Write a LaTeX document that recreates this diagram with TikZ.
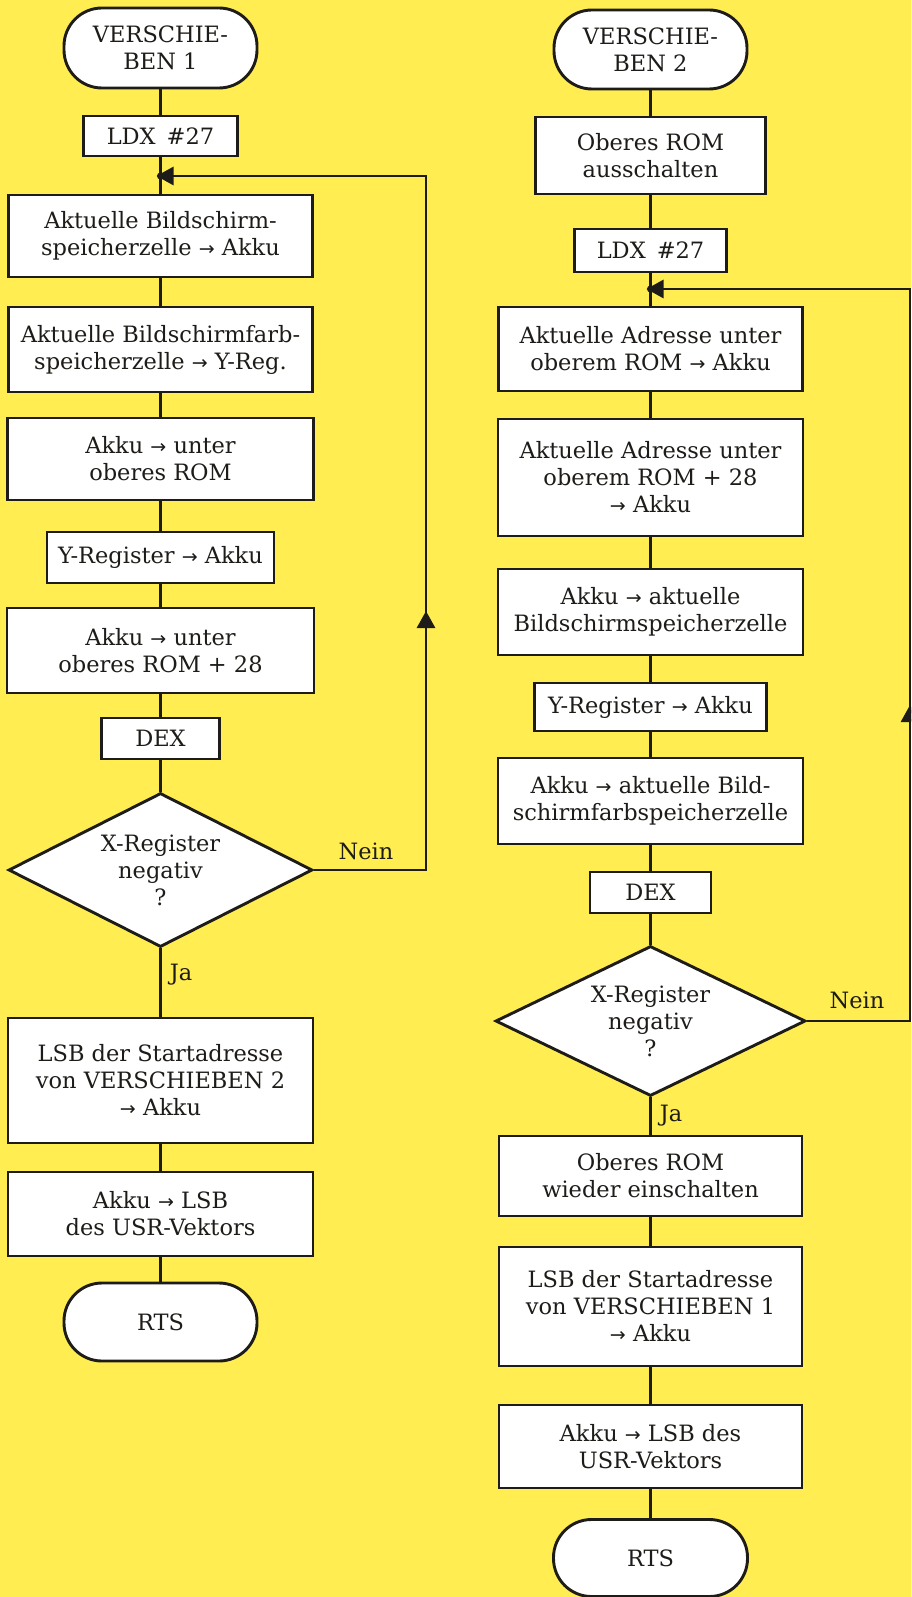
\documentclass[tikz,border=0pt]{standalone}
\usepackage{fontspec}
\setmainfont{DejaVu Serif}
\newfontfamily\symf{DejaVu Sans}
\usetikzlibrary{shapes.geometric,arrows.meta}
\definecolor{bgyellow}{RGB}{255,237,82}
\definecolor{ink}{RGB}{30,28,24}
\newcommand\ar{{\symf\fontsize{19}{19}\selectfont →}}
\begin{document}
\begin{tikzpicture}[x=1pt,y=-1pt,
  every node/.style={font=\fontsize{22.5}{27}\selectfont, text=ink},
  procbox/.style={draw=ink, line width=2.9pt, fill=white, rectangle, align=center, inner sep=0pt},
  termbox/.style={draw=ink, line width=2.9pt, fill=white, rectangle, rounded corners=38pt, align=center, inner sep=0pt},
  decbox/.style={draw=ink, line width=2.9pt, fill=white, diamond, aspect=2.2, align=center, inner sep=0pt},
  connline/.style={draw=ink, line width=2.9pt},
  lbl/.style={inner sep=0pt},
  arrowend/.style={-{Triangle[length=17pt,width=18pt]}}
]
\useasboundingbox (0,0) rectangle (911,1597);
\clip (0,0) rectangle (911,1597);
\fill[bgyellow] (0,0) rectangle (911,1597);

% ---------- left column ----------
\node[termbox, minimum width=193pt, minimum height=80pt] (s1) at (160.5,48) {VERSCHIE-\\BEN 1};
\node[procbox, minimum width=154pt, minimum height=40pt] (l1) at (160.5,136) {LDX\hspace{11pt}\#27};
\coordinate (J1) at (160.5,176);
\node[procbox, minimum width=304pt, minimum height=82pt] (b1) at (160.5,236) {Aktuelle Bildschirm-\\speicherzelle \ar{} Akku};
\node[procbox, minimum width=304pt, minimum height=85pt] (b2) at (160.5,349.5) {Aktuelle Bildschirmfarb-\\speicherzelle \ar{} Y-Reg.};
\node[procbox, minimum width=306pt, minimum height=82pt] (b3) at (160.5,459) {Akku \ar{} unter\\oberes ROM};
\node[procbox, minimum width=227pt, minimum height=51pt] (b4) at (160.5,557.5) {Y-Register \ar{} Akku};
\node[procbox, minimum width=307pt, minimum height=85pt] (b5) at (160.5,650.5) {Akku \ar{} unter\\oberes ROM + 28};
\node[procbox, minimum width=118pt, minimum height=41pt] (b6) at (160.5,738.5) {DEX};
\node[decbox, minimum width=304pt, minimum height=154pt] (d1) at (160.5,870) {X-Register\\negativ\\?};
\node[procbox, minimum width=305pt, minimum height=125pt] (b7) at (160.5,1080.5) {LSB der Startadresse\\von VERSCHIEBEN 2\\\ar{} Akku};
\node[procbox, minimum width=305pt, minimum height=84pt] (b8) at (160.5,1214) {Akku \ar{} LSB\\des USR-Vektors};
\node[termbox, minimum width=193pt, minimum height=78pt] (e1) at (160.5,1322) {RTS};

\foreach \a/\b in {s1/l1,l1/b1,b1/b2,b2/b3,b3/b4,b4/b5,b5/b6,b6/d1,d1/b7,b7/b8,b8/e1}
  \draw[connline] (\a) -- (\b);

\coordinate (c1) at (426,870);
\coordinate (c2) at (426,176);
\coordinate (m1) at (426,611);
\draw[connline, arrowend, shorten >=-4pt] (d1.east) -- (c1) -- (c2) -- (J1);
\draw[connline, arrowend] (c1) -- (m1);
\fill[ink] (J1) circle (3.5pt);
\node[lbl] (n1) at (366,851) {Nein};
\node[lbl] (j1) at (181,975) {Ja};

% ---------- right column ----------
\node[termbox, minimum width=193pt, minimum height=79pt] (s2) at (650.5,49.5) {VERSCHIE-\\BEN 2};
\node[procbox, minimum width=230pt, minimum height=77pt] (r1) at (650.5,155.5) {Oberes ROM\\ausschalten};
\node[procbox, minimum width=152pt, minimum height=43pt] (r2) at (650.5,250.5) {LDX\hspace{11pt}\#27};
\coordinate (J2) at (650.5,289);
\node[procbox, minimum width=304pt, minimum height=84pt] (r3) at (650.5,349) {Aktuelle Adresse unter\\oberem ROM \ar{} Akku};
\node[procbox, minimum width=305pt, minimum height=117pt] (r4) at (650.5,477.5) {Aktuelle Adresse unter\\oberem ROM + 28\\\ar{} Akku};
\node[procbox, minimum width=305pt, minimum height=86pt] (r5) at (650.5,612) {Akku \ar{} aktuelle\\Bildschirmspeicherzelle};
\node[procbox, minimum width=232pt, minimum height=48pt] (r6) at (650.5,707) {Y-Register \ar{} Akku};
\node[procbox, minimum width=305pt, minimum height=86pt] (r7) at (650.5,801) {Akku \ar{} aktuelle Bild-\\schirmfarbspeicherzelle};
\node[procbox, minimum width=121pt, minimum height=41pt] (r8) at (650.5,892.5) {DEX};
\node[decbox, minimum width=310pt, minimum height=150pt] (d2) at (650.5,1021) {X-Register\\negativ\\?};
\node[procbox, minimum width=303pt, minimum height=80pt] (r9) at (650.5,1176) {Oberes ROM\\wieder einschalten};
\node[procbox, minimum width=303pt, minimum height=119pt] (r10) at (650.5,1306.5) {LSB der Startadresse\\von VERSCHIEBEN 1\\\ar{} Akku};
\node[procbox, minimum width=303pt, minimum height=83pt] (r11) at (650.5,1446.5) {Akku \ar{} LSB des\\USR-Vektors};
\node[termbox, minimum width=194pt, minimum height=77pt] (e2) at (650.5,1558) {RTS};

\foreach \a/\b in {s2/r1,r1/r2,r2/r3,r3/r4,r4/r5,r5/r6,r6/r7,r7/r8,r8/d2,d2/r9,r9/r10,r10/r11,r11/e2}
  \draw[connline] (\a) -- (\b);

\coordinate (c3) at (910,1021);
\coordinate (c4) at (910,289);
\coordinate (m2) at (910,705);
\draw[connline, arrowend, shorten >=-4pt] (d2.east) -- (c3) -- (c4) -- (J2);
\draw[connline, arrowend] (c3) -- (m2);
\fill[ink] (J2) circle (3.5pt);
\node[lbl] (n2) at (857,1000) {Nein};
\node[lbl] (j2) at (671,1116) {Ja};
\end{tikzpicture}
\end{document}
